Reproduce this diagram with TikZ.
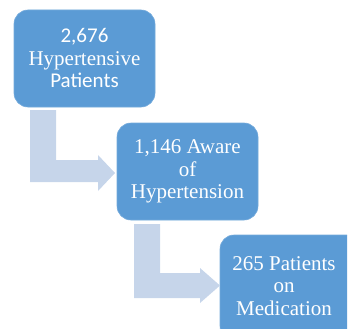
\documentclass[tikz,border=0pt]{standalone}
\usepackage{fontspec}
\setmainfont{Liberation Serif}
\newfontfamily\calfont{Carlito}
\definecolor{boxblue}{HTML}{5B9BD5}
\definecolor{arrowblue}{HTML}{C6D5EA}
\begin{document}
\begin{tikzpicture}[x=1pt,y=-1pt,
  stagebox/.style={fill=boxblue, draw=boxblue!85!white, line width=0.6pt, rounded corners=14pt},
  stagetext/.style={text=white, align=center, font=\fontsize{21}{22.5}\selectfont},
  bentarrow/.style={fill=arrowblue, draw=none}]
\useasboundingbox (0,0) rectangle (350,329);
% boxes
\draw[stagebox] (14,10) rectangle (155,107);
\coordinate (c1) at (84.5,58);
\draw[stagebox] (117,123) rectangle (258,220);
\coordinate (c2) at (187.5,171.5);
\begin{scope}
\clip (0,0) rectangle (347,328);
\draw[stagebox] (220,235) rectangle (362,340);
\end{scope}
\coordinate (c3) at (284,286);
% arrows
\fill[bentarrow] (30,110) -- (56,110) -- (56,160) -- (98,160) -- (98,155) -- (115,173)
  -- (98,191) -- (98,182) -- (30,182) -- cycle;
\fill[bentarrow] (134,224) -- (160,224) -- (160,273) -- (200,273) -- (200,268) -- (220,285.5)
  -- (200,303) -- (200,298) -- (134,298) -- cycle;
% texts
\node[stagetext] (t1) at (c1) {{\calfont 2,676}\\Hypertensive\\{\calfont Patients}};
\node[stagetext] (t2) at (c2) {1,146 Aware\\of\\Hypertension};
\node[stagetext] (t3) at (c3) {265 Patients\\on\\Medication};
\end{tikzpicture}
\end{document}
